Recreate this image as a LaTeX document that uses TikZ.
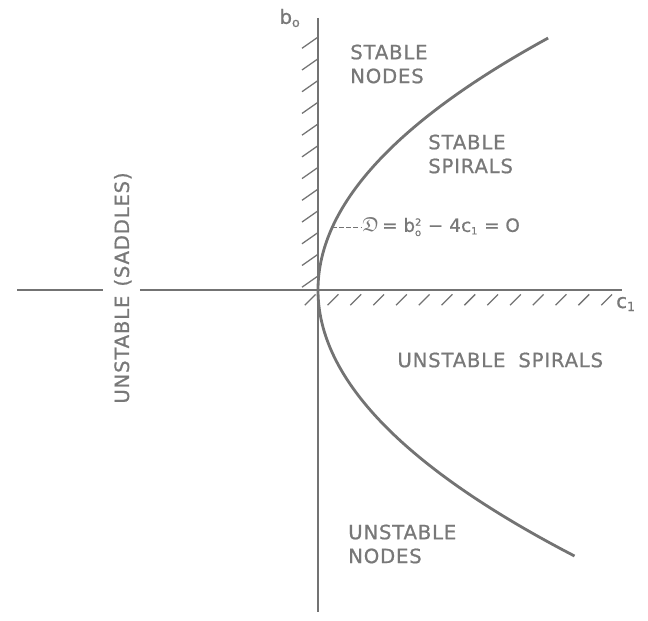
\documentclass[tikz,border=0pt]{standalone}
\usepackage{amssymb}
\usepackage{fontspec}
\setmainfont{DejaVu Sans}[LetterSpace=4,FakeBold=0.8]
\definecolor{ink}{gray}{0.45}
\definecolor{lettering}{gray}{0.47}
\begin{document}
\begin{tikzpicture}[x=1cm,y=1cm,
  axis/.style={ink, line width=1.4pt},
  hatch/.style={ink, line width=0.9pt},
  curve/.style={ink, line width=2pt},
  region/.style={lettering, font=\fontsize{14}{17}\selectfont, align=left, inner sep=0pt}]
\useasboundingbox (-7.95,-8.25) rectangle (8.25,7.25);
% axes
\draw[axis] (0,6.8) -- (0,-8.05);
\draw[axis] (-7.52,0) -- (-5.38,0);
\draw[axis] (-4.45,0) -- (7.6,0);
% hatching
\foreach \i in {0,...,11} {
  \draw[hatch] (0,0.35+0.543*\i) -- ++(-0.4,-0.28);
}
\foreach \i in {0,...,13} {
  \draw[hatch] (-0.33+0.57*\i,-0.38) -- ++(0.27,0.27);
}
% D = 0
\draw[curve] plot[domain=-6.65:6.3, samples=80, smooth] ({0.145*\x*\x},\x);
\coordinate (dtouch) at (0.36,1.575);
\node[region, anchor=west, font=\fontsize{13}{17}\selectfont\addfontfeatures{LetterSpace=1}] (eqn) at (1.1,1.575)
  {{\Large$\mathfrak{D}$}\,= b$_{\textrm{\scriptsize o}}^{\textrm{\scriptsize 2}}$ − 4c$_{\textrm{\scriptsize 1}}$ = O};
\draw[ink, line width=0.5pt, densely dashed] (dtouch) -- (eqn.west);
% labels
\node[region] (bzero) at (-0.7,6.8) {b$_{\textrm{\small o}}$};
\node[region] (cone) at (7.7,-0.35) {c$_{\textrm{\small 1}}$};
\node[region, anchor=west] (stabnodes) at (0.8,5.65) {STABLE\\NODES};
\node[region, anchor=west] (stabspir) at (2.75,3.4) {STABLE\\SPIRALS};
\node[region, anchor=west] (unstspir) at (1.98,-1.75) {UNSTABLE\hspace{0.3em} SPIRALS};
\node[region, anchor=west] (unstnodes) at (0.75,-6.35) {UNSTABLE\\NODES};
\node[region, rotate=90] (saddles) at (-4.88,0.05) {UNSTABLE\hspace{0.1em} (SADDLES)};
\end{tikzpicture}
\end{document}
